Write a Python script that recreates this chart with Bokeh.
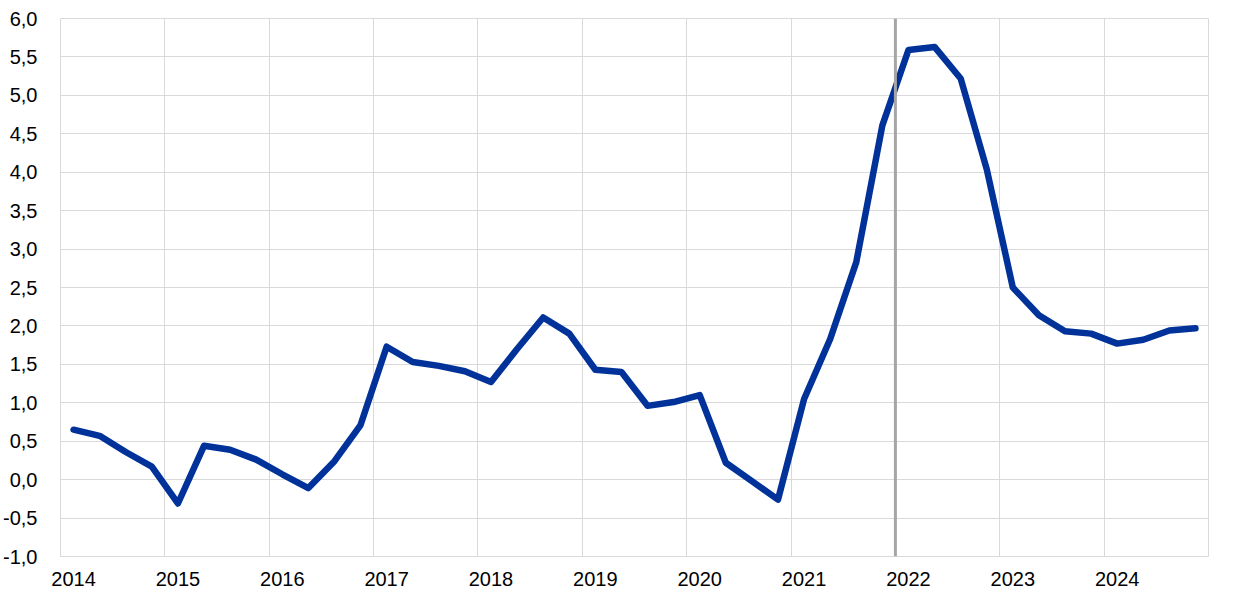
from bokeh.plotting import figure
from bokeh.models import FixedTicker, Range1d, Span
from bokeh.embed import file_html
from bokeh.resources import INLINE

# Quarterly data 2014Q1 - 2024Q4
years = list(range(2014, 2025))
quarters = ["Q1", "Q2", "Q3", "Q4"]
values = [
    0.65, 0.57, 0.36, 0.17,      # 2014
    -0.31, 0.44, 0.39, 0.26,     # 2015
    0.07, -0.11, 0.24, 0.71,     # 2016
    1.73, 1.53, 1.48, 1.41,      # 2017
    1.27, 1.70, 2.11, 1.90,      # 2018
    1.43, 1.40, 0.96, 1.01,      # 2019
    1.10, 0.22, -0.02, -0.26,    # 2020
    1.05, 1.83, 2.83, 4.61,      # 2021
    5.59, 5.63, 5.22, 4.04,      # 2022
    2.50, 2.14, 1.93, 1.90,      # 2023
    1.77, 1.82, 1.94, 1.97,      # 2024
]
y_ticks = [-1.0, -0.5, 0.0, 0.5, 1.0, 1.5, 2.0, 2.5, 3.0, 3.5, 4.0, 4.5, 5.0, 5.5, 6.0]
marker_year = 2022

# quarter mid-points on a continuous year axis
x = [y + (q + 0.5) / 4 for y in years for q in range(4)]

p = figure(
    frame_width=1148, frame_height=538,
    min_border_left=52, min_border_top=18, min_border_right=16, min_border_bottom=38,
    x_range=Range1d(2014, 2025), y_range=Range1d(-1.0, 6.0),
    output_backend="svg", toolbar_location=None,
)
p.outline_line_color = "#d9d9d9"
p.outline_line_width = 1
p.background_fill_color = "white"
p.border_fill_color = "white"

# grids
p.xgrid.ticker = FixedTicker(ticks=[float(y) for y in range(2014, 2026)])
p.xgrid.grid_line_color = "#d9d9d9"
p.xgrid.grid_line_width = 1
p.ygrid.grid_line_color = "#d9d9d9"
p.ygrid.grid_line_width = 1

# x axis: labels at Q1 midpoints
xt = [y + 0.125 for y in years]
p.xaxis.ticker = FixedTicker(ticks=xt)
p.xaxis.major_label_overrides = {t: str(y) for t, y in zip(xt, years)}
p.xaxis.axis_line_color = None
p.xaxis.major_tick_line_color = None
p.xaxis.minor_tick_line_color = None
p.xaxis.major_label_standoff = 9
p.xaxis.major_label_text_font = "Liberation Sans"
p.xaxis.major_label_text_font_size = "20px"
p.xaxis.major_label_text_color = "#000000"

# y axis
p.yaxis.ticker = FixedTicker(ticks=y_ticks)
p.yaxis.major_label_overrides = {t: f"{t:.1f}".replace(".", ",") for t in y_ticks}
p.yaxis.axis_line_color = None
p.yaxis.major_tick_line_color = None
p.yaxis.minor_tick_line_color = None
p.yaxis.major_label_standoff = 17
p.yaxis.major_label_text_font = "Liberation Sans"
p.yaxis.major_label_text_font_size = "20px"
p.yaxis.major_label_text_color = "#000000"

# vertical marker line
p.add_layout(Span(location=marker_year, dimension="height", line_color="#a6a6a6", line_width=3))

p.line(x, values, line_color="#003299", line_width=6.5, line_join="round", line_cap="round")

open("out.html", "w").write(file_html(p, INLINE))
